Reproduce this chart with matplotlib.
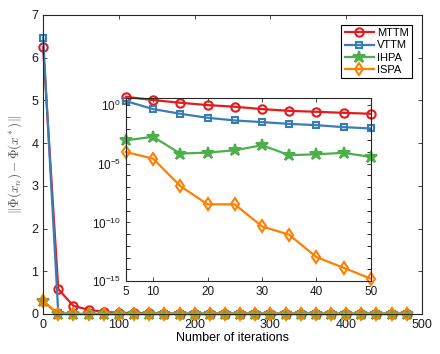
import matplotlib.pyplot as plt
import numpy as np
from matplotlib.ticker import FixedLocator, NullFormatter

plt.rcParams["font.family"] = ["Liberation Sans", "DejaVu Sans"]
plt.rcParams["font.size"] = 9
plt.rcParams["mathtext.fontset"] = "cm"

# main plot data (every 20 iterations)
iters = np.arange(0, 500, 20)
mttm = [6.24, 0.58, 0.19, 0.1, 0.05, 0.03, 0.02, 0.015, 0.01, 0.01, 0.01, 0.01, 0.01,
        0.01, 0.01, 0.01, 0.01, 0.01, 0.01, 0.01, 0.01, 0.01, 0.01, 0.01, 0.01]
vttm = [6.47, 0.02] + [0.0] * 23
ihpa = [0.3] + [0.0] * 24
ispa = [0.3] + [0.0] * 24

# inset data (log10 of error)
iters_in = [5, 10, 15, 20, 25, 30, 35, 40, 45, 50]
mttm_log = [0.71, 0.43, 0.2, 0.0, -0.14, -0.34, -0.49, -0.57, -0.66, -0.74]
vttm_log = [0.34, -0.34, -0.74, -1.08, -1.31, -1.45, -1.6, -1.71, -1.88, -1.99]
ihpa_log = [-3.0, -2.7, -4.13, -4.05, -3.85, -3.42, -4.27, -4.19, -4.07, -4.42]
ispa_log = [-4.0, -4.56, -6.9, -8.46, -8.46, -10.34, -11.05, -12.96, -13.87, -14.8]

names = ["MTTM", "VTTM", "IHPA", "ISPA"]
colors = ["#e41a1c", "#377eb8", "#4daf4a", "#ff7f00"]
markers = ["o", "s", "*", "d"]
fills = ["none", "none", "#4daf4a", "none"]
sizes = [6, 5, 9, 6]


def style_axes(ax):
    ax.tick_params(direction="in", top=True, right=True, length=3, width=0.6,
                   colors="#262626", labelcolor="#1a1a1a")
    ax.tick_params(which="minor", direction="in", top=True, right=True, length=3,
                   width=0.7, colors="#262626")
    for s in ax.spines.values():
        s.set_linewidth(0.8)
        s.set_color("#262626")


fig = plt.figure(figsize=(4.4, 3.54), dpi=100)
ax = fig.add_axes([0.098, 0.113, 0.861, 0.845])

main_series = [mttm, vttm, ihpa, ispa]
for name, ys, c, m, f, ms in zip(names, main_series, colors, markers, fills, sizes):
    ax.plot(iters, ys, color=c, marker=m, mfc=f, mec=c, ms=ms, mew=1.5, lw=1.6,
            label=name, clip_on=False)

ax.set_xlim(0, 500)
ax.set_ylim(0, 7)
ax.set_xticks(range(0, 501, 100))
ax.set_yticks(range(0, 8))
ax.set_xlabel("Number of iterations", labelpad=1)
ax.set_ylabel(r"$\|\Phi(x_n)-\Phi(x^*)\|$", labelpad=5, fontsize=9.5, color="#555555")
style_axes(ax)
leg = ax.legend(loc="upper right", fancybox=False, edgecolor="black",
                framealpha=1, borderpad=0.3, labelspacing=0.2, handlelength=2.6,
                handletextpad=0.3, borderaxespad=0.9, fontsize=8)
leg.get_frame().set_linewidth(0.8)

# inset
axi = fig.add_axes([0.286, 0.206, 0.557, 0.517])
inset_series = [mttm_log, vttm_log, ihpa_log, ispa_log]
for ys, c, m, f, ms in zip(inset_series, colors, markers, fills, sizes):
    axi.semilogy(iters_in, 10.0 ** np.array(ys), color=c, marker=m, mfc=f, mec=c,
                 ms=ms, mew=1.5, lw=1.6, clip_on=False)

axi.set_xlim(5, 50)
axi.set_ylim(1e-15, 10 ** 0.6)
axi.set_xticks([5, 10, 20, 30, 40, 50])
axi.set_yticks([1e-15, 1e-10, 1e-5, 1e0])
axi.yaxis.set_minor_locator(FixedLocator([10.0 ** k for k in range(-15, 1)]))
axi.yaxis.set_minor_formatter(NullFormatter())
style_axes(axi)
axi.tick_params(labelsize=8.5)

fig.savefig("out.png", dpi=100)
